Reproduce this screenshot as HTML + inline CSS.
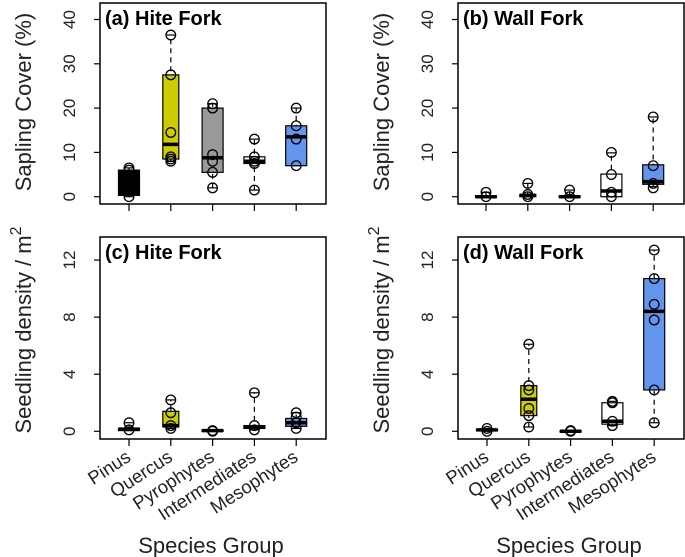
<!DOCTYPE html>
<html><head><meta charset="utf-8"><style>
body{margin:0;background:#fff}
svg{display:block;font-family:"Liberation Sans",Arial,sans-serif}
</style></head><body>
<svg id="chart" width="685" height="557" viewBox="0 0 685 557"></svg>
<script>
const categories=["Pinus","Quercus","Pyrophytes","Intermediates","Mesophytes"];
const colors=["#000000","#cccc00","#999999","#ffffff","#6495ed"];
// per panel: [whiskLo, q1, median, q3, whiskHi]
const statsA=[[0,0.3,1.6,6,6.5],[8,8.5,11.8,27.5,36.5],[2,5.5,8.8,20,21],[1.5,7.5,8,9,13],[7,7,13.5,16,20]];
const pointsA=[[0,2.2,6,6.5],[36.5,27.5,14.5,9,8.5,8],[21,20,9.5,8,5.5,2],[13,9,8,7.5,1.5],[20,16,13,7]];
const statsB=[[0,0,0,0.2,1],[0,0,0.3,0.5,3],[0,0,0,0.2,1.5],[0,0,1.3,5.1,9.9],[2.3,2.8,3.4,7.2,18]];
const pointsB=[[0,1],[3,0.5,0],[0,1.5],[10,5,1,0],[18,7,3,2]];
const statsC=[[0.05,0.05,0.15,0.2,0.6],[0.2,0.3,0.4,1.4,2.2],[0,0,0.05,0.1,0.1],[0.1,0.2,0.3,0.4,2.7],[0.2,0.35,0.6,0.9,1.3]];
const pointsC=[[0.6,0.1],[2.2,1.3,0.4,0.2],[0.05,0],[2.7,0.4,0.1],[1.3,1,0.6,0.2]];
const statsD=[[0,0.05,0.1,0.15,0.2],[0.3,1.1,2.25,3.2,6.1],[0,0,0,0.05,0.05],[0.4,0.5,0.7,2.0,2.1],[0.6,2.9,8.4,10.7,12.7]];
const pointsD=[[0.2,0],[6.1,3.2,2.9,1.6,1.1,0.3],[0,0.05],[2.1,2.0,0.7,0.4],[12.7,10.7,8.9,7.8,2.9,0.6]];
const ticksTop=[0,10,20,30,40];
const ticksBot=[0,4,8,12];
const NS="http://www.w3.org/2000/svg";
const svg=document.getElementById('chart');
function el(t,a,p){const e=document.createElementNS(NS,t);for(const k in a)e.setAttribute(k,a[k]);(p||svg).appendChild(e);return e;}
const panels=[
 {id:'a',title:'(a) Hite Fork',L:100,R:326,T:3,B:204,y0:196.7,ppu:4.43,ticks:ticksTop,stats:statsA,pts:pointsA,x0:129},
 {id:'b',title:'(b) Wall Fork',L:458,R:684,T:3,B:204,y0:196.7,ppu:4.43,ticks:ticksTop,stats:statsB,pts:pointsB,x0:486},
 {id:'c',title:'(c) Hite Fork',L:100,R:326,T:237,B:439,y0:431.3,ppu:14.27,ticks:ticksBot,stats:statsC,pts:pointsC,x0:129},
 {id:'d',title:'(d) Wall Fork',L:458,R:684,T:237,B:439,y0:431.3,ppu:14.27,ticks:ticksBot,stats:statsD,pts:pointsD,x0:487}
];
panels.forEach(p=>{
 const g=el('g',{});
 
 
 const y=v=>p.y0-v*p.ppu;
 const x=i=>p.x0+i*41.8;
 const fr=el('rect',{x:p.L,y:p.T,width:p.R-p.L,height:p.B-p.T,fill:'none',stroke:'#000','stroke-width':1.5},g);
 
 
 const tt=el('text',{x:p.L+5,y:p.T+22,'font-size':20,'font-weight':'bold'},g);
 tt.textContent=p.title;
 
 
 p.ticks.forEach(v=>{
  el('line',{x1:p.L-6,x2:p.L,y1:y(v),y2:y(v),stroke:'#000','stroke-width':1.2},g);
  const t=el('text',{x:0,y:0,'font-size':17,'text-anchor':'middle',fill:'#222',transform:`translate(${p.L-31},${y(v)}) rotate(-90) translate(0,6)`},g);
  t.textContent=v;
  
  
 });
 categories.forEach((c,i)=>{
  el('line',{x1:x(i),x2:x(i),y1:p.B,y2:p.B+7,stroke:'#000','stroke-width':1.2},g);
  const s=p.stats[i];const w=i==1?8:10.5;
  el('line',{x1:x(i),x2:x(i),y1:y(s[0]),y2:y(s[4]),stroke:'#000','stroke-width':1.2,'stroke-dasharray':'5,4'},g);
  el('line',{x1:x(i)-5,x2:x(i)+5,y1:y(s[0]),y2:y(s[0]),stroke:'#000','stroke-width':1.2},g);
  el('line',{x1:x(i)-5,x2:x(i)+5,y1:y(s[4]),y2:y(s[4]),stroke:'#000','stroke-width':1.2},g);
  const b=el('rect',{x:x(i)-w,y:y(s[3]),width:2*w,height:Math.max(1.5,y(s[1])-y(s[3])),fill:colors[i],stroke:'#000','stroke-width':1.2},g);
  
  
  el('line',{x1:x(i)-w,x2:x(i)+w,y1:y(s[2]),y2:y(s[2]),stroke:'#000','stroke-width':3.5},g);
  p.pts[i].forEach(v=>{
   const pt=el('circle',{cx:x(i),cy:y(v),r:4.8,fill:'none',stroke:'#000','stroke-width':1.3},g);
   
   
  });
  if(p.id=='c'||p.id=='d'){
   const t=el('text',{x:0,y:0,'font-size':18.5,'text-anchor':'end',fill:'#222',transform:`translate(${x(i)+3},${p.B+21}) rotate(-33)`},g);
   t.textContent=c;
   
   
  }
 });
});
function label(txt,x,y,rot,name){
 const t=el('text',{x:0,y:0,'font-size':22,'text-anchor':'middle',fill:'#222',transform:`translate(${x},${y}) rotate(${rot})`});
 t.innerHTML=txt;
 
 
}
label('Sapling Cover (%)',31,102,-90,'y-axis-title-a');
label('Sapling Cover (%)',389,102,-90,'y-axis-title-b');
label('Seedling density / m<tspan dy="-10" font-size="16">2</tspan>',31,330,-90,'y-axis-title-c');
label('Seedling density / m<tspan dy="-10" font-size="16">2</tspan>',389,330,-90,'y-axis-title-d');
label('Species Group',211,553,0,'x-axis-title-c');
label('Species Group',569,553,0,'x-axis-title-d');
</script>
</body></html>
